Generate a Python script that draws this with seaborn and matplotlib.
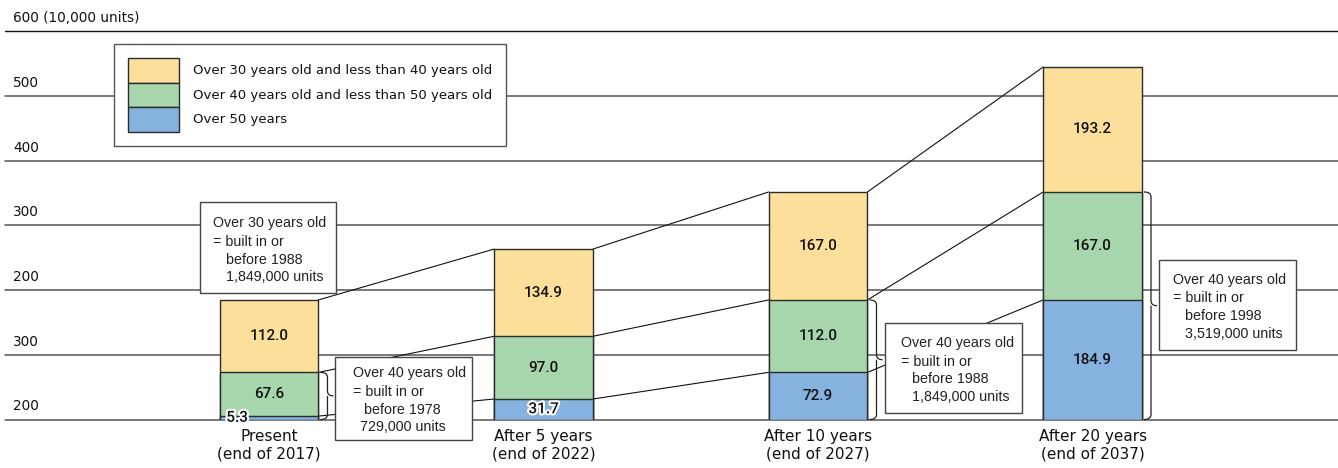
import matplotlib
matplotlib.use("Agg")
import matplotlib.pyplot as plt
import matplotlib.patheffects as pe
import seaborn as sns
from matplotlib.patches import Rectangle, PathPatch
from matplotlib.path import Path
from matplotlib.transforms import IdentityTransform, blended_transform_factory

# ---- data (10,000 units) ----
categories = ["Present\n(end of 2017)", "After 5 years\n(end of 2022)",
              "After 10 years\n(end of 2027)", "After 20 years\n(end of 2037)"]
over_50 = [5.3, 31.7, 72.9, 184.9]
age_40_50 = [67.6, 97.0, 112.0, 167.0]
age_30_40 = [112.0, 134.9, 167.0, 193.2]
series_names = ["Over 30 years old and less than 40 years old",
                "Over 40 years old and less than 50 years old",
                "Over 50 years"]
y_grid = [0, 100, 200, 300, 400, 500, 600]
y_labels = ["200", "300", "200", "300", "400", "500", "600 (10,000 units)"]

# bars whose lower segments are bracketed, and the callout texts
brace_bars = [0, 2, 3]
brace_levels = [2, 2, 2]   # bracket covers the first two stacked segments
note_texts = [
    ["Over 30 years old", "= built in or", "before 1988", "1,849,000 units"],
    ["Over 40 years old", "= built in or", "before 1978", "729,000 units"],
    ["Over 40 years old", "= built in or", "before 1988", "1,849,000 units"],
    ["Over 40 years old", "= built in or", "before 1998", "3,519,000 units"],
]

# ---- style ----
yellow, green, blue = "#FCDF9A", "#A7D5AC", "#86B2DF"
edge = "#2b2b2b"
bar_w = 0.36

sns.set_theme(style="white")
plt.rcParams["font.family"] = ["DejaVu Sans"]

fig = plt.figure(figsize=(13.38, 4.68), dpi=100)
ax = fig.add_axes([5 / 1338, 48.5 / 468, 1333 / 1338, 388 / 468])

# cumulative heights for stacking
lvl1 = [a for a in over_50]
lvl2 = [a + b for a, b in zip(over_50, age_40_50)]
lvl3 = [a + b + c for a, b, c in zip(over_50, age_40_50, age_30_40)]
levels = [lvl1, lvl2, lvl3]

for h, c in [(lvl3, yellow), (lvl2, green), (lvl1, blue)]:
    sns.barplot(x=categories, y=h, color=c, saturation=1, width=bar_w,
                edgecolor=edge, linewidth=1.0, ax=ax, zorder=3)

ax.set_xlim(-0.962, 3.894)
ax.set_ylim(0, 600)
for s in ax.spines.values():
    s.set_visible(False)
ax.set_yticks([])
ax.set_ylabel("")
ax.tick_params(axis="x", length=0, pad=7, labelsize=11, colors="#111111")
for lbl in ax.get_xticklabels():
    lbl.set_linespacing(1.2)

# horizontal rules with labels sitting above them
ytrans = blended_transform_factory(ax.transAxes, ax.transData)
for v, lab in zip(y_grid, y_labels):
    ax.axhline(v, color="#111111" if v == 600 else "#555555",
               lw=1.0 if v == 600 else 1.1, zorder=0, clip_on=False)
    ax.annotate(lab, xy=(0, v), xycoords=ytrans, xytext=(8, 9),
                textcoords="offset pixels", ha="left", va="baseline",
                fontsize=9.8, color="#111111")

# segment values
segments = [over_50, age_40_50, age_30_40]
bottoms = [[0] * 4, lvl1, lvl2]
for seg, bot in zip(segments, bottoms):
    for i, (v, b) in enumerate(zip(seg, bot)):
        dx = -32 if v < 10 else 0
        t = ax.annotate(f"{v:.1f}", xy=(i, b + v / 2), xytext=(dx, 0),
                        textcoords="offset pixels", ha="center", va="center",
                        fontsize=11, family=["Roboto", "DejaVu Sans"],
                        fontweight="medium", color="#111111", zorder=6)
        if v < 40:
            t.set_path_effects([pe.withStroke(linewidth=3, foreground="white")])

# connecting lines between consecutive bars at each stack level
for lv in levels:
    for i in range(3):
        ax.plot([i + bar_w / 2, i + 1 - bar_w / 2], [lv[i], lv[i + 1]],
                color="#111111", lw=0.8, zorder=2)

fig.canvas.draw()
to_px = ax.transData.transform

# curly braces to the right of the bracketed bars
for i, k in zip(brace_bars, brace_levels):
    top = levels[k - 1][i]
    x0, yt = to_px((i + bar_w / 2, top))
    _, yb = to_px((i + bar_w / 2, 0))
    x0 += 2
    x1, x2, r = x0 + 7, x0 + 13, 5
    ym = (yt + yb) / 2
    verts = [(x0, yt), (x1, yt), (x1, yt - r), (x1, ym + r), (x1, ym), (x2, ym),
             (x1, ym), (x1, ym - r), (x1, yb + r), (x1, yb), (x0, yb)]
    codes = [Path.MOVETO, Path.CURVE3, Path.CURVE3, Path.LINETO, Path.CURVE3,
             Path.CURVE3, Path.MOVETO, Path.CURVE3, Path.LINETO, Path.CURVE3,
             Path.CURVE3]
    ax.add_patch(PathPatch(Path(verts, codes), fill=False, ec="#222222", lw=0.9,
                           transform=IdentityTransform(), clip_on=False, zorder=4))

# callout boxes: (left, top) in data units, size in pixels, line offsets in pixels
box_anchor = [(-0.251, 336.3), (0.240, 96.6), (2.244, 149.2), (3.242, 246.6)]
box_size = [(136, 91), (137, 83), (137, 90), (137, 90)]
line_offsets = [
    [(13, 21), (13, 40), (26, 58), (26, 75)],
    [(18, 16), (18, 35), (29, 53), (25, 70)],
    [(16, 20), (16, 39), (27, 56), (27, 74)],
    [(14, 20), (14, 38), (26, 56), (26, 74)],
]
note_font = ["Liberation Sans", "DejaVu Sans"]
for (bx, by), (w, h), offs, lines in zip(box_anchor, box_size, line_offsets, note_texts):
    X, Y = to_px((bx, by))
    ax.add_patch(Rectangle((X, Y - h), w, h, transform=IdentityTransform(),
                           fc="white", ec="#444444", lw=1.0, clip_on=False, zorder=5))
    for (dx, dy), line in zip(offs, lines):
        ax.annotate(line, xy=(bx, by), xytext=(dx, -dy), textcoords="offset pixels",
                    ha="left", va="center", fontsize=10.3, family=note_font,
                    color="#222222", zorder=7, annotation_clip=False)

# legend
handles = [Rectangle((0, 0), 1, 1, fc=c, ec=edge, lw=1.0) for c in (yellow, green, blue)]
leg = ax.legend(handles, series_names, loc="upper left",
                bbox_to_anchor=(114 / 1338, (468 - 44) / 468),
                bbox_transform=fig.transFigure, borderaxespad=0,
                fontsize=9.5, handlelength=3.87, handleheight=2.49, labelspacing=0,
                handletextpad=1.06, borderpad=1.06, frameon=True, fancybox=False,
                framealpha=1, edgecolor="#555555")
leg.get_frame().set_linewidth(1.0)
leg.set_zorder(8)
for txt in leg.get_texts():
    txt.set_color("#111111")

fig.savefig("out.png", dpi=100)
